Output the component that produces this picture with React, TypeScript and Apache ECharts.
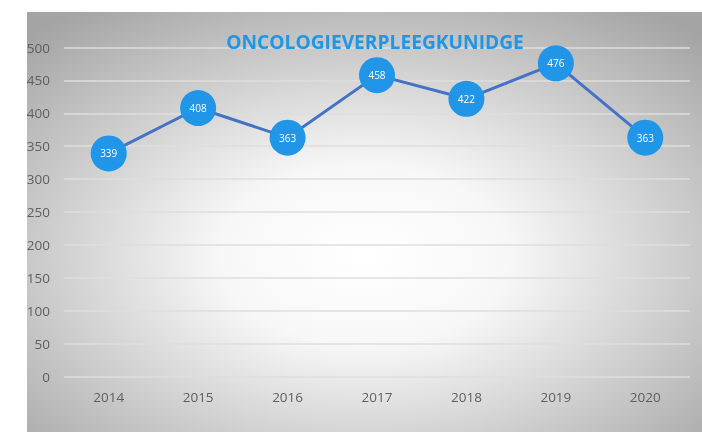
import React, { useEffect, useRef } from "react";
import * as echarts from "echarts";

const title = "ONCOLOGIEVERPLEEGKUNIDGE";
const years = ["2014", "2015", "2016", "2017", "2018", "2019", "2020"];
const values = [339, 408, 363, 458, 422, 476, 363];

export default function App() {
  const ref = useRef<HTMLDivElement>(null);
  useEffect(() => {
    if (!ref.current) return;
    const chart = echarts.init(ref.current, null, { renderer: "svg" });
    chart.setOption({
      animation: false,
      graphic: [
        {
          type: "rect",
          z: -10,
          silent: true,
          shape: { x: 27, y: 12, width: 675, height: 420 },
          style: {
            fill: new echarts.graphic.RadialGradient(0.5, 0.58, 0.72, [
              { offset: 0, color: "#ffffff" },
              { offset: 0.3, color: "#f7f7f7" },
              { offset: 1, color: "#a4a4a4" },
            ]),
          },
        },
      ],
      title: {
        text: title,
        left: 370,
        top: 27,
        textAlign: "center",
        textStyle: {
          fontFamily: "Open Sans",
          fontWeight: "bold",
          fontSize: 19.2,
          color: "#1f97e6",
        },
      },
      grid: { left: 64, right: 12, top: 47.5, bottom: 55.5 },
      xAxis: {
        type: "category",
        data: years,
        axisLine: { show: false },
        axisTick: { show: false },
        axisLabel: {
          color: "#5f5f5f",
          fontSize: 13.5,
          fontFamily: "Open Sans",
          margin: 13,
        },
      },
      yAxis: {
        type: "value",
        min: 0,
        max: 500,
        interval: 50,
        axisLine: { show: false },
        axisTick: { show: false },
        axisLabel: {
          color: "#5f5f5f",
          fontSize: 13.5,
          fontFamily: "Open Sans",
          margin: 14,
        },
        splitLine: { lineStyle: { color: "#dedede", width: 1.5 } },
      },
      series: [
        {
          type: "line",
          data: values,
          symbol: "circle",
          symbolSize: 36,
          lineStyle: { color: "#4472c4", width: 3 },
          itemStyle: { color: "#2196e8" },
          label: {
            show: true,
            position: "inside",
            color: "#ffffff",
            fontSize: 10,
            fontFamily: "Open Sans",
          },
        },
      ],
    });
    return () => chart.dispose();
  }, []);
  return (
    <div
      ref={ref}
      style={{ position: "fixed", left: 0, top: 0, width: 702, height: 432 }}
    />
  );
}
